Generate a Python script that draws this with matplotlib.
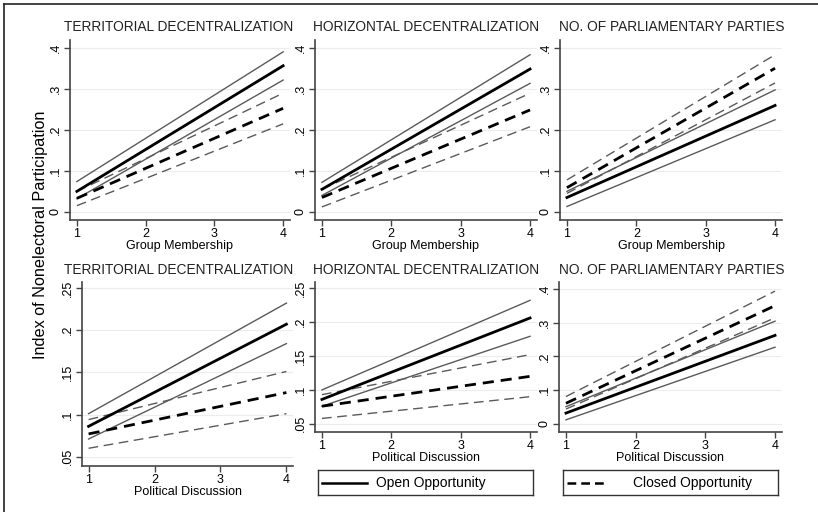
import matplotlib
matplotlib.use('Agg')
import matplotlib.pyplot as plt
from matplotlib.lines import Line2D

plt.rcParams['font.family'] = ['Liberation Sans', 'DejaVu Sans']

W, H = 818, 512

x_vals = [1, 4]

titles = ['TERRITORIAL DECENTRALIZATION', 'HORIZONTAL DECENTRALIZATION',
          'NO. OF PARLIAMENTARY PARTIES'] * 2
xlabels = ['Group Membership'] * 3 + ['Political Discussion'] * 3

# abierta: media, limite superior, limite inferior
open_mean = [[0.050, 0.357], [0.055, 0.349], [0.035, 0.260],
             [0.086, 0.207], [0.086, 0.206], [0.032, 0.262]]
open_hi = [[0.074, 0.391], [0.072, 0.384], [0.050, 0.298],
           [0.101, 0.232], [0.100, 0.232], [0.051, 0.304]]
open_lo = [[0.032, 0.322], [0.040, 0.314], [0.013, 0.225],
           [0.071, 0.184], [0.076, 0.179], [0.012, 0.227]]
# cerrada
closed_mean = [[0.033, 0.253], [0.035, 0.249], [0.059, 0.351],
               [0.077, 0.126], [0.076, 0.120], [0.061, 0.350]]
closed_hi = [[0.050, 0.290], [0.055, 0.290], [0.078, 0.384],
             [0.094, 0.151], [0.093, 0.152], [0.081, 0.393]]
closed_lo = [[0.015, 0.215], [0.012, 0.208], [0.045, 0.315],
             [0.060, 0.101], [0.058, 0.090], [0.044, 0.314]]

yticks_top = [0, 0.1, 0.2, 0.3, 0.4]
ylabels_top = ['0', '.1', '.2', '.3', '.4']
yticks_disc = [0.05, 0.1, 0.15, 0.2, 0.25]
ylabels_disc = ['.05', '.1', '.15', '.2', '.25']

# caja de cada panel en pixeles: izquierda, derecha, arriba, abajo
boxes = [(70, 290, 40, 220), (315, 537, 40, 220), (560, 782, 40, 220),
         (82, 293, 282, 466), (315, 537, 282, 432), (559, 782, 282, 432)]
ylims = [(-0.02, 0.42)] * 3 + [(0.039, 0.257), (0.038, 0.259), (-0.024, 0.42)]
# centro de los titulos por columna y altura por fila (pixeles)
title_x = [179, 426, 672] * 2
title_y = [27] * 3 + [270] * 3

fig = plt.figure(figsize=(W / 100, H / 100), dpi=100)

def px_axes(l, r, t, b):
    return fig.add_axes([l / W, 1 - b / H, (r - l) / W, (b - t) / H])

axis_col = '#444444'
for i in range(6):
    l, r, t, b = boxes[i]
    ax = px_axes(l, r, t, b)
    if i in (3, 4):
        yt, yl = yticks_disc, ylabels_disc
    else:
        yt, yl = yticks_top, ylabels_top
    for yv in yt:
        ax.axhline(yv, color='#ececec', lw=0.8, zorder=0)
    ax.plot(x_vals, open_hi[i], color='#5a5a5a', lw=1.0)
    ax.plot(x_vals, open_lo[i], color='#5a5a5a', lw=1.0)
    ax.plot(x_vals, closed_hi[i], color='#5a5a5a', lw=1.0, dashes=(7, 4))
    ax.plot(x_vals, closed_lo[i], color='#5a5a5a', lw=1.0, dashes=(7, 4))
    ax.plot(x_vals, open_mean[i], color='black', lw=2.0)
    ax.plot(x_vals, closed_mean[i], color='black', lw=2.0, dashes=(4, 2.5))
    ax.set_xlim(0.9, 4.1)
    ax.set_ylim(*ylims[i])
    ax.set_xticks([1, 2, 3, 4])
    ax.set_yticks(yt)
    ax.set_yticklabels(yl, rotation=90, va='center')
    ax.tick_params(labelsize=9, length=4, width=1, color=axis_col, pad=2)
    for s in ('top', 'right'):
        ax.spines[s].set_visible(False)
    for s in ('left', 'bottom'):
        ax.spines[s].set_color(axis_col)
        ax.spines[s].set_linewidth(1.2)
    ax.set_xlabel(xlabels[i], fontsize=9, labelpad=0)
    fig.text(title_x[i] / W, 1 - title_y[i] / H, titles[i], ha='center',
             va='center', fontsize=9.9, color='#222222')

fig.text(41 / W, 1 - 235 / H, 'Index of Nonelectoral Participation',
         rotation=90, ha='center', va='center', fontsize=11.7)

# leyenda en dos cajas
legend_items = [('Open Opportunity', '-', (318, 533), 0.27),
                ('Closed Opportunity', '--', (563, 778), 0.325)]
for label, ls, (l, r), tx in legend_items:
    lax = px_axes(l, r, 470, 495)
    lax.set_xlim(0, 1)
    lax.set_ylim(0, 1)
    lax.set_xticks([])
    lax.set_yticks([])
    for s in lax.spines.values():
        s.set_color('#333333')
        s.set_linewidth(1.0)
    if ls == '--':
        lax.add_line(Line2D([0.02, 0.21], [0.5, 0.5], color='black', lw=1.8,
                            dashes=(3.5, 2)))
    else:
        lax.add_line(Line2D([0.02, 0.23], [0.5, 0.5], color='black', lw=1.8))
    lax.text(tx, 0.5, label, va='center', fontsize=10)

# marco de la figura (izquierda y arriba)
fig.add_artist(Line2D([4 / W, 4 / W], [0, 1 - 4 / H], color='#222222', lw=1.2))
fig.add_artist(Line2D([4 / W, 1], [1 - 4 / H, 1 - 4 / H], color='#222222', lw=1.2))

fig.savefig('out.png', dpi=100)
